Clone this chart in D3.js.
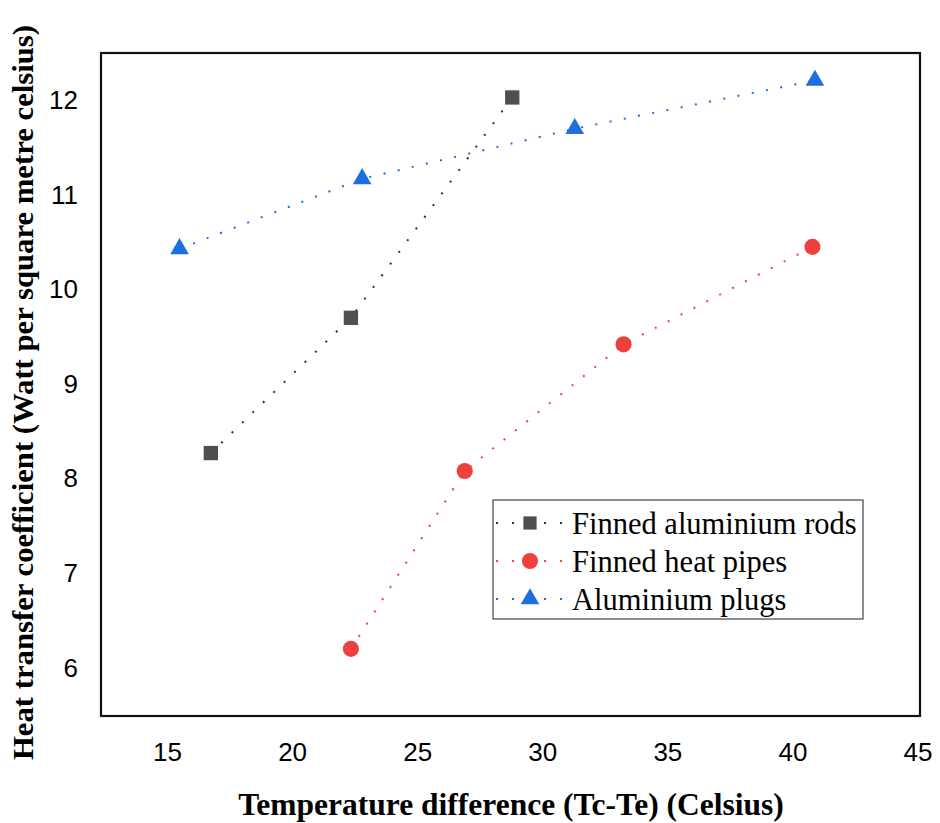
<!DOCTYPE html>
<html>
<head>
<meta charset="utf-8">
<script src="https://cdn.jsdelivr.net/npm/d3@7"></script>
<style>
  html, body { margin: 0; padding: 0; background: #fff; }
  svg { display: block; }
</style>
</head>
<body>
<svg id="chart" width="940" height="823"></svg>
<script>
// Measured heat transfer coefficient vs. temperature difference
const rodsX   = [16.75, 22.35, 28.8];
const rodsY   = [8.27, 9.70, 12.03];
const pipesX  = [22.35, 26.9, 33.25, 40.8];
const pipesY  = [6.20, 8.08, 9.42, 10.45];
const plugsX  = [15.5, 22.8, 31.3, 40.9];
const plugsY  = [10.43, 11.17, 11.70, 12.21];

const xTicks = [15, 20, 25, 30, 35, 40, 45];
const yTicks = [6, 7, 8, 9, 10, 11, 12];

const seriesNames = ["Finned aluminium rods", "Finned heat pipes", "Aluminium plugs"];
const seriesColors = ["#4f4f4f", "#ef4040", "#1b6fdf"];
const seriesSymbols = [d3.symbolSquare, d3.symbolCircle, d3.symbolTriangle];

const series = [
  { name: seriesNames[0], xs: rodsX,  ys: rodsY,  color: seriesColors[0], symbol: seriesSymbols[0], size: 205, legendSize: 175, lineColor: "#333" },
  { name: seriesNames[1], xs: pipesX, ys: pipesY, color: seriesColors[1], symbol: seriesSymbols[1], size: 205, legendSize: 205, lineColor: seriesColors[1] },
  { name: seriesNames[2], xs: plugsX, ys: plugsY, color: seriesColors[2], symbol: seriesSymbols[2], size: 150, legendSize: 150, lineColor: seriesColors[2] }
];

const svg = d3.select("#chart");
const plotLeft = 101, plotRight = 920, plotTop = 53, plotBottom = 716;

const x = d3.scaleLinear().domain([12.36, 45.1]).range([plotLeft, plotRight]);
const y = d3.scaleLinear().domain([5.49, 12.5]).range([plotBottom, plotTop]);

// Axes (labels only, no tick marks)
const xAxis = svg.append("g")
  .attr("transform", `translate(0,${plotBottom})`)
  .call(d3.axisBottom(x).tickValues(xTicks).tickSize(0).tickPadding(27).tickFormat(d3.format("d")));
xAxis.select(".domain").remove();
xAxis.selectAll("text")
  .attr("font-family", "Liberation Sans, Arial, sans-serif")
  .attr("font-size", 26)
  .attr("fill", "#000");

const yAxis = svg.append("g")
  .attr("transform", `translate(${plotLeft},0)`)
  .call(d3.axisLeft(y).tickValues(yTicks).tickSize(0).tickPadding(23).tickFormat(d3.format("d")));
yAxis.select(".domain").remove();
yAxis.selectAll("text")
  .attr("font-family", "Liberation Sans, Arial, sans-serif")
  .attr("font-size", 26)
  .attr("fill", "#000");

// Dotted connecting lines and markers
const line = d3.line().x(d => x(d[0])).y(d => y(d[1]));
series.forEach(s => {
  const pts = s.xs.map((v, i) => [v, s.ys[i]]);
  svg.append("path")
    .attr("d", line(pts))
    .attr("fill", "none")
    .attr("stroke", s.lineColor)
    .attr("stroke-width", 2)
    .attr("stroke-dasharray", "2,12.5");
  svg.append("g").selectAll("path")
    .data(pts)
    .join("path")
    .attr("transform", d => `translate(${x(d[0])},${y(d[1])})`)
    .attr("d", d3.symbol().type(s.symbol).size(s.size))
    .attr("fill", s.color);
});

// Plot frame
svg.append("rect")
  .attr("x", plotLeft).attr("y", plotTop)
  .attr("width", plotRight - plotLeft).attr("height", plotBottom - plotTop)
  .attr("fill", "none")
  .attr("stroke", "#111")
  .attr("stroke-width", 2.2);

// Legend
const lg = svg.append("g").attr("transform", "translate(493,500)");
lg.append("rect")
  .attr("width", 370).attr("height", 119)
  .attr("fill", "#fff")
  .attr("stroke", "#444")
  .attr("stroke-width", 1.2);
series.forEach((s, i) => {
  const cy = 23 + i * 38;
  lg.append("line")
    .attr("x1", 3).attr("x2", 70)
    .attr("y1", cy).attr("y2", cy)
    .attr("stroke", s.lineColor)
    .attr("stroke-width", 2)
    .attr("stroke-dasharray", "2,14");
  lg.append("path")
    .attr("transform", `translate(37,${cy})`)
    .attr("d", d3.symbol().type(s.symbol).size(s.legendSize))
    .attr("fill", s.color);
  lg.append("text")
    .attr("x", 79).attr("y", cy)
    .attr("dy", "0.35em")
    .attr("font-family", "Liberation Serif, Times New Roman, serif")
    .attr("font-size", 30.5)
    .attr("fill", "#000")
    .text(s.name);
});

// Axis titles
svg.append("text")
  .attr("x", 511).attr("y", 815)
  .attr("text-anchor", "middle")
  .attr("font-family", "Liberation Serif, Times New Roman, serif")
  .attr("font-weight", "bold")
  .attr("font-size", 31.5)
  .attr("fill", "#000")
  .text("Temperature difference (Tc-Te) (Celsius)");

svg.append("text")
  .attr("transform", "translate(33,392.5) rotate(-90)")
  .attr("text-anchor", "middle")
  .attr("font-family", "Liberation Serif, Times New Roman, serif")
  .attr("font-weight", "bold")
  .attr("font-size", 30)
  .attr("textLength", 735)
  .attr("lengthAdjust", "spacingAndGlyphs")
  .attr("fill", "#000")
  .text("Heat transfer coefficient (Watt per square metre celsius)");
</script>
</body>
</html>
